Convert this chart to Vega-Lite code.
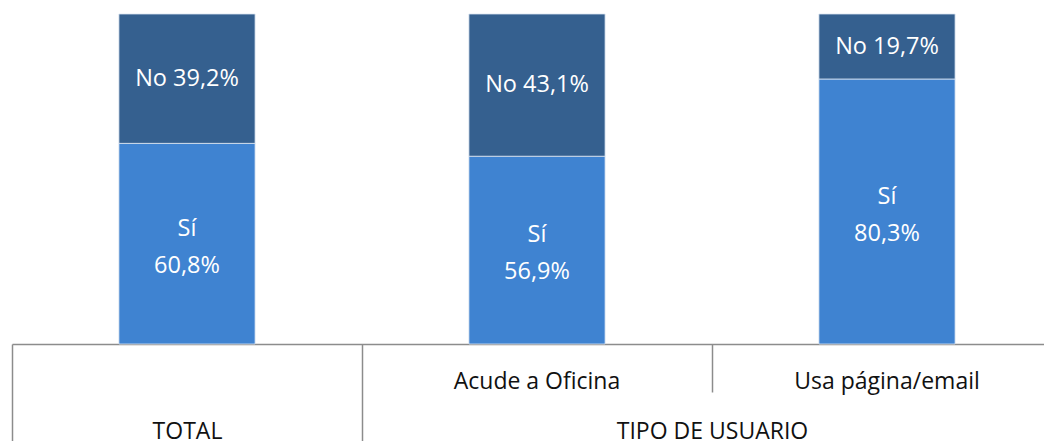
{
  "$schema": "https://vega.github.io/schema/vega-lite/v6.json",
  "width": 1032,
  "height": 330,
  "autosize": {"type": "none"},
  "padding": {"left": 12, "top": 14, "right": 0, "bottom": 97},
  "background": "white",
  "config": {"view": {"stroke": null}},
  "layer": [
    {
      "data": {
        "values": [
          {"tipo": "TOTAL", "respuesta": "Sí", "valor": 60.8},
          {"tipo": "TOTAL", "respuesta": "No", "valor": 39.2},
          {"tipo": "Acude a Oficina", "respuesta": "Sí", "valor": 56.9},
          {"tipo": "Acude a Oficina", "respuesta": "No", "valor": 43.1},
          {"tipo": "Usa página/email", "respuesta": "Sí", "valor": 80.3},
          {"tipo": "Usa página/email", "respuesta": "No", "valor": 19.7}
        ]
      },
      "transform": [
        {"stack": "valor", "groupby": ["tipo"], "sort": [{"field": "respuesta", "order": "descending"}], "as": ["v0", "v1"]},
        {"calculate": "(datum.v0 + datum.v1) / 2", "as": "ymid"},
        {"calculate": "replace(format(datum.valor, '.1f'), '.', ',') + '%'", "as": "pct"}
      ],
      "encoding": {
        "x": {
          "field": "tipo",
          "type": "nominal",
          "sort": null,
          "scale": {
            "domain": ["TOTAL", "Acude a Oficina", "Usa página/email"],
            "range": [0, 1050],
            "paddingInner": 0.611,
            "paddingOuter": 0.3055
          },
          "axis": {
            "orient": "bottom",
            "title": null,
            "offset": 0,
            "grid": false,
            "ticks": false,
            "labelExpr": "datum.value == 'TOTAL' ? '' : datum.value",
            "domainColor": "#8c8c8c",
            "domainWidth": 1.5,
            "labelFont": "Open Sans",
            "labelFontSize": 23,
            "labelColor": "#111111",
            "labelBaseline": "middle",
            "labelPadding": 37,
            "labelAngle": 0,
            "labelFlush": false,
            "labelOverlap": false,
            "labelBound": false,
            "labelLimit": 0
          }
        }
      },
      "layer": [
        {
          "mark": {"type": "bar", "stroke": "#dbe5f1", "strokeWidth": 0.8},
          "encoding": {
            "y": {"field": "v0", "type": "quantitative", "scale": {"domain": [0, 100], "nice": false}, "axis": null},
            "y2": {"field": "v1"},
            "color": {
              "field": "respuesta",
              "type": "nominal",
              "scale": {"domain": ["Sí", "No"], "range": ["#3f83d1", "#35608f"]},
              "legend": null
            }
          }
        },
        {
          "transform": [
            {"filter": "datum.respuesta == 'No'"},
            {"calculate": "'No ' + datum.pct", "as": "etiqueta"}
          ],
          "mark": {"type": "text", "font": "Open Sans", "fontSize": 23.5, "color": "white", "baseline": "middle", "align": "center"},
          "encoding": {
            "y": {"field": "ymid", "type": "quantitative"},
            "text": {"field": "etiqueta", "type": "nominal"}
          }
        },
        {
          "transform": [
            {"filter": "datum.respuesta == 'Sí'"},
            {"calculate": "['Sí', datum.pct]", "as": "etiqueta"}
          ],
          "mark": {"type": "text", "font": "Open Sans", "fontSize": 23.5, "color": "white", "baseline": "middle", "align": "center", "lineHeight": 37, "dy": -15},
          "encoding": {
            "y": {"field": "ymid", "type": "quantitative"},
            "text": {"field": "etiqueta", "type": "nominal"}
          }
        }
      ]
    },
    {
      "data": {
        "values": [
          {"grupo": "TOTAL", "categorias": 1},
          {"grupo": "TIPO DE USUARIO", "categorias": 2}
        ]
      },
      "mark": {"type": "bar", "opacity": 0},
      "encoding": {
        "x": {
          "field": "categorias",
          "type": "quantitative",
          "scale": {"domain": [0, 3], "range": [0, 1050], "nice": false, "zero": true},
          "axis": {
            "orient": "bottom",
            "title": null,
            "offset": 0,
            "grid": false,
            "domain": false,
            "values": [0, 0.5, 1, 2],
            "labelExpr": "datum.value == 0.5 ? 'TOTAL' : datum.value == 2 ? 'TIPO DE USUARIO' : ''",
            "tickSize": {"condition": {"test": "datum.value == 2", "value": 48}, "value": 97},
            "tickWidth": 1.5,
            "tickColor": "#8c8c8c",
            "tickOpacity": {"condition": {"test": "datum.value == 0.5", "value": 0}, "value": 1},
            "labelFont": "Open Sans",
            "labelFontSize": 23,
            "labelColor": "#111111",
            "labelBaseline": "middle",
            "labelPadding": {"condition": {"test": "datum.value == 2", "value": 39}, "value": -10},
            "labelAngle": 0,
            "labelFlush": false,
            "labelOverlap": false,
            "labelBound": false,
            "labelLimit": 0
          }
        },
        "detail": {"field": "grupo", "type": "nominal"}
      }
    }
  ],
  "resolve": {"scale": {"x": "independent"}, "axis": {"x": "independent"}}
}
